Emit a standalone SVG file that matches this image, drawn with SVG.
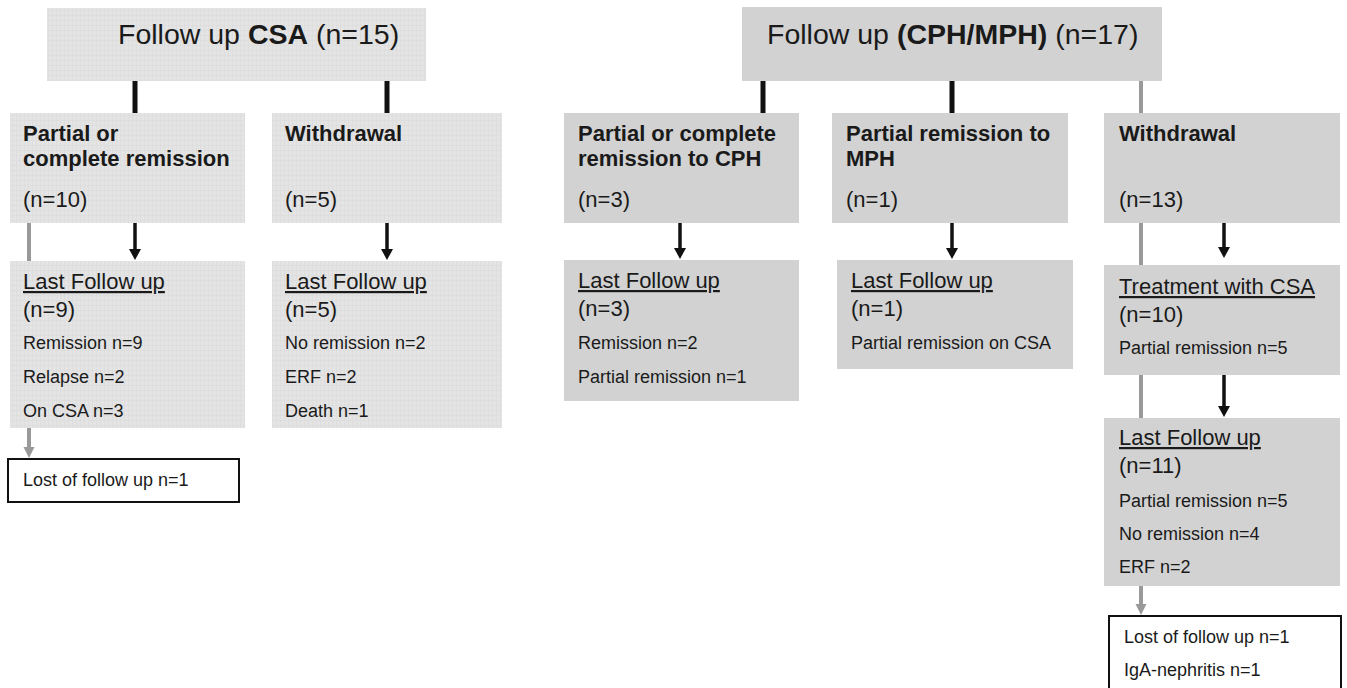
<svg xmlns="http://www.w3.org/2000/svg" width="1347" height="688" viewBox="0 0 1347 688">
<defs>
<pattern id="grid" width="4" height="5" patternUnits="userSpaceOnUse">
<rect width="4" height="5" fill="#e4e4e4"/>
<path d="M0,0.5 H4 M0.5,0 V5" stroke="#dedede" stroke-width="1"/>
</pattern>
<marker id="ah" viewBox="0 0 12 12" refX="1" refY="6" markerWidth="12" markerHeight="12" markerUnits="userSpaceOnUse" orient="auto">
<path d="M0,0 L11,6 L0,12 z" fill="#111"/>
</marker>
<marker id="ahg" viewBox="0 0 12 12" refX="1" refY="6" markerWidth="12" markerHeight="12" markerUnits="userSpaceOnUse" orient="auto">
<path d="M0,0.5 L11,6 L0,11.5 z" fill="#999"/>
</marker>
</defs>
<style>
text{font-family:"Liberation Sans",Arial,Helvetica,sans-serif;fill:#1a1a1a}
.title{font-size:28.5px}
.hd{font-size:22px;font-weight:bold}
.n{font-size:22px}
.s{font-size:18px}
.u{text-decoration:underline}
.lt{fill:url(#grid)}
.dk{fill:#d2d2d2}
.wb{fill:#fff;stroke:#111;stroke-width:2}
.top{stroke:#111;stroke-width:5;fill:none}
.arr{stroke:#111;stroke-width:3.5;fill:none;marker-end:url(#ah)}
.gl{stroke:#999;stroke-width:4;fill:none}
.ga{stroke:#999;stroke-width:4;fill:none;marker-end:url(#ahg)}
</style>
<rect width="1347" height="688" fill="#fff"/>
<g id="connectors">
<line class="top" x1="135" y1="80" x2="135" y2="114"/>
<line class="top" x1="387" y1="80" x2="387" y2="114"/>
<line class="arr" x1="135" y1="223" x2="135" y2="250"/>
<line class="arr" x1="387" y1="223" x2="387" y2="250"/>
<line class="gl" x1="29" y1="222" x2="29" y2="262"/>
<line class="ga" x1="29" y1="427" x2="29" y2="448"/>
<line class="top" x1="763" y1="80" x2="763" y2="114"/>
<line class="top" x1="952" y1="80" x2="952" y2="114"/>
<line class="gl" x1="1141" y1="80" x2="1141" y2="114"/>
<line class="arr" x1="680" y1="223" x2="680" y2="249"/>
<line class="arr" x1="952" y1="223" x2="952" y2="249"/>
<line class="arr" x1="1224" y1="223" x2="1224" y2="248"/>
<line class="gl" x1="1141" y1="222" x2="1141" y2="419"/>
<line class="arr" x1="1224" y1="375" x2="1224" y2="407"/>
<line class="ga" x1="1141" y1="585" x2="1141" y2="605"/>
</g>
<g id="csa-top">
<rect class="lt" x="47" y="8" width="379" height="73"/>
<text class="title" x="118" y="44">Follow up <tspan font-weight="bold">CSA</tspan> (n=15)</text>
</g>
<g id="csa-remission">
<rect class="lt" x="10" y="113" width="235" height="110"/>
<text class="hd" x="23" y="141">Partial or</text>
<text class="hd" x="23" y="166">complete remission</text>
<text class="n" x="23" y="207">(n=10)</text>
</g>
<g id="csa-withdrawal">
<rect class="lt" x="272" y="113" width="230" height="110"/>
<text class="hd" x="285" y="141">Withdrawal</text>
<text class="n" x="285" y="207">(n=5)</text>
</g>
<g id="csa-last1">
<rect class="lt" x="10" y="261" width="235" height="167"/>
<text class="n u" x="23" y="289">Last Follow up</text>
<text class="n" x="23" y="317">(n=9)</text>
<text class="s" x="23" y="349">Remission n=9</text>
<text class="s" x="23" y="383">Relapse n=2</text>
<text class="s" x="23" y="417">On CSA n=3</text>
</g>
<g id="csa-last2">
<rect class="lt" x="272" y="261" width="230" height="167"/>
<text class="n u" x="285" y="289">Last Follow up</text>
<text class="n" x="285" y="317">(n=5)</text>
<text class="s" x="285" y="349">No remission n=2</text>
<text class="s" x="285" y="383">ERF n=2</text>
<text class="s" x="285" y="417">Death n=1</text>
</g>
<g id="csa-lost">
<rect class="wb" x="8" y="459" width="231" height="43"/>
<text class="s" x="23" y="486">Lost of follow up n=1</text>
</g>
<g id="cph-top">
<rect class="dk" x="742" y="7" width="420" height="74"/>
<text class="title" x="767" y="44">Follow up <tspan font-weight="bold">(CPH/MPH)</tspan> (n=17)</text>
</g>
<g id="cph-remission">
<rect class="dk" x="564" y="113" width="235" height="110"/>
<text class="hd" x="578" y="141">Partial or complete</text>
<text class="hd" x="578" y="166">remission to CPH</text>
<text class="n" x="578" y="207">(n=3)</text>
</g>
<g id="mph-remission">
<rect class="dk" x="832" y="113" width="236" height="110"/>
<text class="hd" x="846" y="141">Partial remission to</text>
<text class="hd" x="846" y="166">MPH</text>
<text class="n" x="846" y="207">(n=1)</text>
</g>
<g id="cph-withdrawal">
<rect class="dk" x="1104" y="113" width="236" height="110"/>
<text class="hd" x="1119" y="141">Withdrawal</text>
<text class="n" x="1119" y="207">(n=13)</text>
</g>
<g id="cph-last1">
<rect class="dk" x="564" y="260" width="235" height="141"/>
<text class="n u" x="578" y="288">Last Follow up</text>
<text class="n" x="578" y="316">(n=3)</text>
<text class="s" x="578" y="349">Remission n=2</text>
<text class="s" x="578" y="383">Partial remission n=1</text>
</g>
<g id="mph-last">
<rect class="dk" x="837" y="260" width="236" height="109"/>
<text class="n u" x="851" y="288">Last Follow up</text>
<text class="n" x="851" y="316">(n=1)</text>
<text class="s" x="851" y="349">Partial remission on CSA</text>
</g>
<g id="cph-treatment">
<rect class="dk" x="1104" y="265" width="236" height="110"/>
<text class="n u" x="1119" y="294">Treatment with CSA</text>
<text class="n" x="1119" y="322">(n=10)</text>
<text class="s" x="1119" y="354">Partial remission n=5</text>
</g>
<g id="cph-last2">
<rect class="dk" x="1104" y="418" width="236" height="168"/>
<text class="n u" x="1119" y="445">Last Follow up</text>
<text class="n" x="1119" y="473">(n=11)</text>
<text class="s" x="1119" y="507">Partial remission n=5</text>
<text class="s" x="1119" y="540">No remission n=4</text>
<text class="s" x="1119" y="573">ERF n=2</text>
</g>
<g id="cph-lost">
<rect class="wb" x="1109" y="616" width="232" height="80"/>
<text class="s" x="1124" y="643">Lost of follow up n=1</text>
<text class="s" x="1124" y="676">IgA-nephritis n=1</text>
</g>
</svg>
